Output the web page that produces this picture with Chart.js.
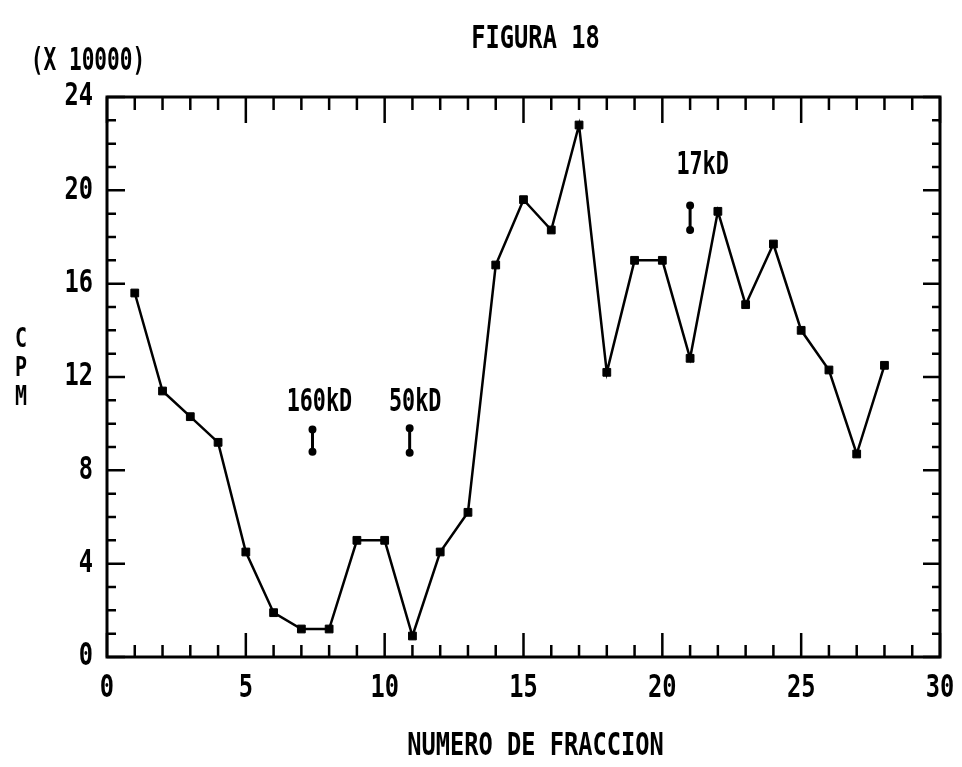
<!DOCTYPE html>
<html><head><meta charset="utf-8"><title>Figura 18</title>
<script src="https://cdn.jsdelivr.net/npm/chart.js"></script>
<style>
  html, body { margin: 0; padding: 0; background: #ffffff; }
  #fig { display: block; }
</style>
</head>
<body>
<canvas id="fig" width="962" height="767"></canvas>
<script>
// numero de fraccion vs CPM (x 10000)
const fractions = [1, 2, 3, 4, 5, 6, 7, 8, 9, 10, 11, 12, 13, 14, 15, 16, 17, 18, 19, 20, 21, 22, 23, 24, 25, 26, 27, 28];
const cpm = [15.6, 11.4, 10.3, 9.2, 4.5, 1.9, 1.2, 1.2, 5.0, 5.0, 0.9, 4.5, 6.2, 16.8, 19.6, 18.3, 22.8, 12.2, 17.0, 17.0, 12.8, 19.1, 15.1, 17.7, 14.0, 12.3, 8.7, 12.5];

// molecular weight markers
const markerNames = ['160kD', '50kD', '17kD'];
const markerX = [7.4, 10.9, 21.0];
const markerLow = [8.8, 8.75, 18.3];
const markerHigh = [9.75, 9.8, 19.35];
const markerLabelX = [7.65, 11.1, 21.45];
const markerLabelY = [10.9, 10.9, 21.05];

const xTickValues = [0, 5, 10, 15, 20, 25, 30];
const yTickValues = [0, 4, 8, 12, 16, 20, 24];

// narrow plotter-like lettering: mono face squeezed horizontally
const FONT = "bold 32px 'DejaVu Sans Mono', 'Liberation Mono', monospace";
const SQUEEZE = 0.74;

function narrowText(ctx, text, x, y, squeeze) {
  ctx.save();
  ctx.translate(x, y);
  ctx.scale(squeeze || SQUEEZE, 1);
  ctx.fillText(text, 0, 0);
  ctx.restore();
}

const points = fractions.map((f, i) => ({ x: f, y: cpm[i] }));

const markerSets = markerX.map((mx, i) => ({
  data: [{ x: mx, y: markerLow[i] }, { x: mx, y: markerHigh[i] }],
  showLine: true,
  borderColor: '#000',
  backgroundColor: '#000',
  borderWidth: 3,
  pointRadius: 2.5,
  pointStyle: 'circle'
}));

// box frame with inward ticks on all four sides, tick labels and loose texts
const frameTicks = {
  id: 'frameTicks',
  afterDraw(chart) {
    const ctx = chart.ctx;
    const a = chart.chartArea;
    const xs = chart.scales.x, ys = chart.scales.y;
    ctx.save();
    ctx.strokeStyle = '#000';
    ctx.lineWidth = 3;
    ctx.strokeRect(a.left, a.top, a.right - a.left, a.bottom - a.top);

    ctx.lineWidth = 2.5;
    ctx.beginPath();
    for (let v = xs.min; v <= xs.max; v++) {
      const px = xs.getPixelForValue(v);
      const major = v % 5 === 0;
      ctx.moveTo(px, a.bottom);
      ctx.lineTo(px, a.bottom - (major ? 24 : 12));
      ctx.moveTo(px, a.top);
      ctx.lineTo(px, a.top + (major ? 26 : 13));
    }
    for (let v = ys.min; v <= ys.max; v++) {
      const py = ys.getPixelForValue(v);
      const major = v % 4 === 0;
      ctx.moveTo(a.left, py);
      ctx.lineTo(a.left + (major ? 18 : 9), py);
      ctx.moveTo(a.right, py);
      ctx.lineTo(a.right - (major ? 17 : 8), py);
    }
    ctx.stroke();

    ctx.fillStyle = '#000';
    ctx.font = FONT;
    ctx.textBaseline = 'middle';

    // tick labels
    ctx.textAlign = 'center';
    xs.ticks.forEach(t => narrowText(ctx, String(t.value), xs.getPixelForValue(t.value), a.bottom + 32));
    ctx.textAlign = 'right';
    ys.ticks.forEach(t => narrowText(ctx, String(t.value), a.left - 14, ys.getPixelForValue(t.value)));

    ctx.textAlign = 'center';
    const cx = (a.left + a.right) / 2 + 12;
    narrowText(ctx, 'FIGURA 18', cx, 40);
    narrowText(ctx, 'NUMERO DE FRACCION', cx, 747);
    narrowText(ctx, '(X 10000)', 88, 62, 0.66);

    ctx.font = "bold 27px 'DejaVu Sans Mono', 'Liberation Mono', monospace";
    ['C', 'P', 'M'].forEach((ch, i) => narrowText(ctx, ch, 21, 340 + i * 29));

    ctx.font = FONT;
    markerNames.forEach((name, i) => {
      narrowText(ctx, name, xs.getPixelForValue(markerLabelX[i]), ys.getPixelForValue(markerLabelY[i]), 0.68);
    });
    ctx.restore();
  }
};

new Chart(document.getElementById('fig'), {
  type: 'scatter',
  data: {
    datasets: [{
      data: points,
      showLine: true,
      borderColor: '#000',
      backgroundColor: '#000',
      borderWidth: 2.5,
      pointStyle: 'rect',
      pointRadius: 5.5,
      pointBorderWidth: 1
    }, ...markerSets]
  },
  options: {
    responsive: false,
    animation: false,
    layout: { padding: { top: 97, right: 22, left: 0, bottom: 0 } },
    plugins: {
      legend: { display: false },
      tooltip: { enabled: false }
    },
    scales: {
      x: {
        type: 'linear',
        min: 0,
        max: 30,
        grid: { display: false, drawTicks: false },
        border: { display: false },
        afterBuildTicks: s => { s.ticks = xTickValues.map(v => ({ value: v })); },
        afterFit: s => { s.height = 110; },
        ticks: { display: false }
      },
      y: {
        type: 'linear',
        min: 0,
        max: 24,
        grid: { display: false, drawTicks: false },
        border: { display: false },
        afterBuildTicks: s => { s.ticks = yTickValues.map(v => ({ value: v })); },
        afterFit: s => { s.width = 107; },
        ticks: { display: false }
      }
    }
  },
  plugins: [frameTicks]
});
</script>
</body></html>
